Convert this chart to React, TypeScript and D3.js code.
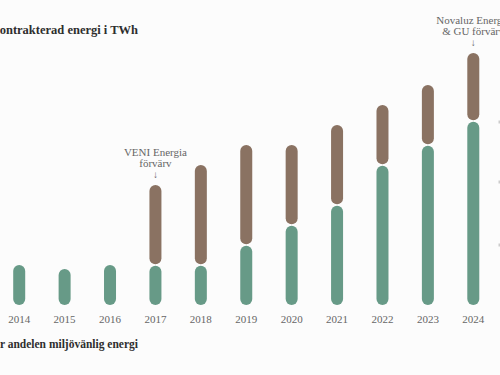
import React from "react";
import * as d3 from "d3";

const years = ["2014", "2015", "2016", "2017", "2018", "2019", "2020", "2021", "2022", "2023", "2024"];
const greenValues = [2, 1.8, 2, 2, 2, 3, 4, 5, 7, 8, 9.2];
const brownValues = [0, 0, 0, 4, 5, 5, 4, 4, 3, 3, 3.4];
const titleText = "Kontrakterad energi i TWh";
const footText = "Grönt visar andelen miljövänlig energi";
const annotations = [
  { year: "2017", lines: ["VENI Energia", "förvärv"] },
  { year: "2024", lines: ["Novaluz Energia", "& GU förvärv"] },
];
const rightMarks = [122, 182, 245];

const W = 500;
const H = 375;
const GREEN = "#679a87";
const BROWN = "#8a7262";
const TEXT = "#666";
const DARK = "#2e2e2e";
const SERIF = "Liberation Serif, DejaVu Serif, serif";

export default function App() {
  const x = d3.scaleBand().domain(years).range([-3.5, 496]).padding(0);
  const y = d3.scaleLinear().domain([0, 14]).range([305, 25]);
  const bw = 12;
  const gap = 0.8;

  return (
    <svg
      width={W}
      height={H}
      style={{ position: "absolute", left: 0, top: 0, background: "#fcfcfc" }}
    >
      <rect x={0} y={0} width={W} height={H} fill="#fcfcfc" />
      <text x={138} y={34} textAnchor="end" fontFamily={SERIF} fontWeight="bold" fontSize={12.5} fill={DARK}>
        {titleText}
      </text>
      {years.map((yr, i) => {
        const cx = (x(yr) as number) + x.bandwidth() / 2;
        const g = greenValues[i];
        const b = brownValues[i];
        const gTop = y(g);
        const gBot = y(0);
        return (
          <g key={yr}>
            <rect
              x={cx - bw / 2}
              y={gTop + (b > 0 ? gap : 0)}
              width={bw}
              height={gBot - gTop - (b > 0 ? gap : 0)}
              rx={6}
              fill={GREEN}
            />
            {b > 0 && (
              <rect
                x={cx - bw / 2}
                y={y(g + b)}
                width={bw}
                height={y(g) - y(g + b) - gap}
                rx={6}
                fill={BROWN}
              />
            )}
            <text
              x={cx}
              y={323}
              textAnchor="middle"
              fontFamily={SERIF}
              fontSize={11}
              fill={TEXT}
            >
              {yr}
            </text>
          </g>
        );
      })}
      {annotations.map((a) => {
        const i = years.indexOf(a.year);
        const cx = (x(a.year) as number) + x.bandwidth() / 2;
        const top = y(greenValues[i] + brownValues[i]);
        return (
          <g key={a.year} fontFamily={SERIF} fontSize={11} fill={TEXT} textAnchor="middle">
            <text x={cx} y={top - 29}>{a.lines[0]}</text>
            <text x={cx} y={top - 18}>{a.lines[1]}</text>
            <text x={cx} y={top - 7} fontSize={10}>↓</text>
          </g>
        );
      })}
      {rightMarks.map((m) => (
        <rect key={m} x={498.5} y={m - 1.5} width={1.5} height={3} fill="#ccc" />
      ))}
      <text x={138} y={348} textAnchor="end" fontFamily={SERIF} fontWeight="bold" fontSize={11.5} fill={DARK}>
        {footText}
      </text>
    </svg>
  );
}
